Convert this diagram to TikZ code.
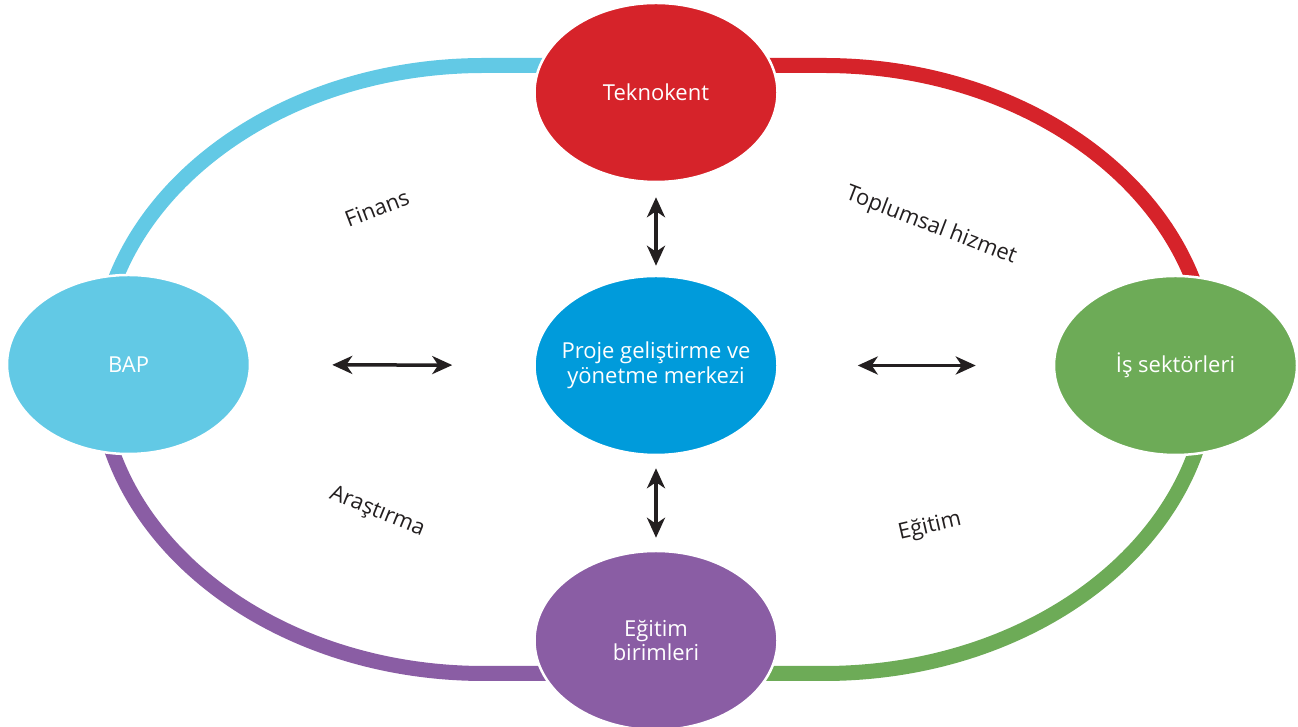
\documentclass[tikz,border=0pt]{standalone}
\usepackage{fontspec}
\setmainfont{Open Sans}
\usetikzlibrary{arrows.meta,shapes.geometric}
\definecolor{cred}{HTML}{D6232A}
\definecolor{clblue}{HTML}{62C9E5}
\definecolor{cgreen}{HTML}{6DAB57}
\definecolor{cpurple}{HTML}{8A5DA4}
\definecolor{cblue}{HTML}{009BDB}
\definecolor{cdark}{HTML}{231F20}
\tikzset{
  bubble/.style={ellipse, draw=white, line width=2.5pt, minimum width=243pt, minimum height=179pt, inner sep=0pt, text=white, align=center, font=\fontsize{22}{24.5}\selectfont},
  band/.style={line width=15pt, line cap=butt},
  lbl/.style={text=cdark, font=\fontsize{22}{24}\selectfont, inner sep=0pt},
  biarrow/.style={cdark, line width=3.5pt, {Stealth[length=20pt,width=18pt,inset=6pt]}-{Stealth[length=20pt,width=18pt,inset=6pt]}}
}
\begin{document}
\begin{tikzpicture}[x=1pt,y=1pt]
\useasboundingbox (0,0) rectangle (1298,727);
% ring
\draw[band, clblue] (654,661.5) -- (484,661.5) arc[start angle=90, end angle=180, x radius=386, y radius=304];
\draw[band, cpurple] (98,357.5) arc[start angle=180, end angle=270, x radius=386, y radius=304] -- (654,53.5);
\draw[band, cgreen] (654,53.5) -- (824,53.5) arc[start angle=270, end angle=360, x radius=386, y radius=304];
\draw[band, cred] (1210,357.5) arc[start angle=0, end angle=90, x radius=386, y radius=304] -- (654,661.5);
% nodes
\node[bubble, fill=cred] (tek) at (656,634.5) {Teknokent};
\node[bubble, fill=cblue, inner xsep=-20pt, inner ysep=-10pt] (mid) at (656,361.5) {Proje geliştirme ve\\yönetme merkezi};
\node[bubble, fill=clblue] (bap) at (128.5,362.5) {BAP};
\node[bubble, fill=cgreen] (is) at (1175.5,361.5) {İş sektörleri};
\node[bubble, fill=cpurple] (egb) at (656,86.5) {Eğitim\\birimleri};
% arrows
\draw[biarrow, shorten <=14pt, shorten >=9pt] (tek) -- (mid);
\draw[biarrow, shorten <=12pt, shorten >=12pt] (mid) -- (egb);
\draw[biarrow, shorten <=81pt, shorten >=81pt] (bap) -- (mid);
\draw[biarrow, shorten <=79pt, shorten >=77pt] (mid) -- (is);
% labels
\node[lbl, rotate=21] (finans) at (377,519) {Finans};
\node[lbl, rotate=-21] (toplum) at (931,501) {Toplumsal hizmet};
\node[lbl, rotate=-22] (arast) at (377,215) {Araştırma};
\node[lbl, rotate=13] (egitim) at (930,200) {Eğitim};
\end{tikzpicture}
\end{document}
